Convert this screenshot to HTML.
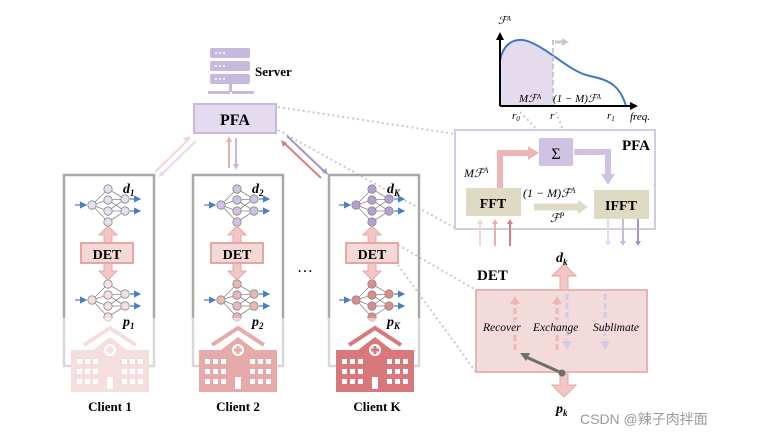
<!DOCTYPE html>
<html><head><meta charset="utf-8"><style>
html,body{margin:0;padding:0;background:#fff;}
svg{display:block;font-family:"Liberation Serif",serif;}
</style></head><body>
<svg width="767" height="440" viewBox="0 0 767 440" xmlns="http://www.w3.org/2000/svg">
<defs>
<marker id="ab" markerWidth="6" markerHeight="6" refX="5" refY="3" orient="auto"><path d="M0,0 L6,3 L0,6 z" fill="#4a7fc6"/></marker>
<g id="net">
 <g stroke="#888" stroke-width="0.8" fill="none">
  <path d="M-16,0 L0,-16 M-16,0 L0,-5 M-16,0 L0,6 M-16,0 L0,17 M0,-16 L17,-6 M0,-5 L17,-6 M0,-5 L17,6 M0,6 L17,-6 M0,6 L17,6 M0,17 L17,6"/>
 </g>
 <g fill="currentColor" stroke="#888" stroke-width="0.8">
  <circle cx="-16" cy="0" r="4.2"/><circle cx="0" cy="-16" r="4.2"/><circle cx="0" cy="-5" r="4.2"/><circle cx="0" cy="6" r="4.2"/><circle cx="0" cy="17" r="4.2"/><circle cx="17" cy="-6" r="4.2"/><circle cx="17" cy="6" r="4.2"/>
 </g>
 <g stroke="#4a7fc6" stroke-width="1.2" marker-end="url(#ab)">
  <line x1="-33" y1="0" x2="-22" y2="0"/><line x1="22" y1="-6" x2="32" y2="-6"/><line x1="22" y1="6" x2="32" y2="6"/>
 </g>
</g>
<g id="hosp">
 <path d="M-26,-8 L0,-25 L26,-8" fill="none" stroke="currentColor" stroke-width="4"/>
 <path d="M-17,-3 L0,-16 L17,-3z" fill="currentColor"/>
 <rect x="-39" y="-3" width="78" height="42" fill="currentColor"/>
 <circle cx="0" cy="-3" r="6" fill="#fff"/><path d="M-1.5,-7h3v2.5h2.5v3h-2.5v2.5h-3v-2.5h-2.5v-3h2.5z" fill="currentColor"/>
 <g fill="#fff">
  <rect x="-33" y="6" width="5" height="5"/><rect x="-25" y="6" width="5" height="5"/><rect x="-17" y="6" width="5" height="5"/><rect x="12" y="6" width="5" height="5"/><rect x="20" y="6" width="5" height="5"/><rect x="28" y="6" width="5" height="5"/>
  <rect x="-33" y="16" width="5" height="5"/><rect x="-25" y="16" width="5" height="5"/><rect x="-17" y="16" width="5" height="5"/><rect x="12" y="16" width="5" height="5"/><rect x="20" y="16" width="5" height="5"/><rect x="28" y="16" width="5" height="5"/>
  <rect x="-33" y="26" width="5" height="5"/><rect x="-25" y="26" width="5" height="5"/><rect x="-17" y="26" width="5" height="5"/><rect x="12" y="26" width="5" height="5"/><rect x="20" y="26" width="5" height="5"/><rect x="28" y="26" width="5" height="5"/>
  <rect x="-3" y="24" width="6" height="12"/>
 </g>
</g>
<g id="dbl">
 <path d="M-4,0 L-4,-8 L-9,-8 L0,-17 L9,-8 L4,-8 L4,0z" fill="#f1c6c6" stroke="#e8a5a5"/>
</g>
</defs>

<!-- server icon -->
<g fill="#c9b8dd">
 <rect x="210" y="48" width="40" height="10" rx="2"/><rect x="210" y="61" width="40" height="10" rx="2"/><rect x="210" y="74" width="40" height="10" rx="2"/>
 <rect x="208" y="91" width="22" height="3"/><rect x="232" y="91" width="22" height="3"/><rect x="229" y="84" width="3" height="8"/>
</g>
<g fill="#fff"><circle cx="216" cy="53" r="1"/><circle cx="220" cy="53" r="1"/><circle cx="224" cy="53" r="1"/><circle cx="216" cy="66" r="1"/><circle cx="220" cy="66" r="1"/><circle cx="224" cy="66" r="1"/><circle cx="216" cy="79" r="1"/><circle cx="220" cy="79" r="1"/><circle cx="224" cy="79" r="1"/></g>
<text x="255" y="76" font-size="13" font-weight="bold">Server</text>

<!-- PFA small -->
<rect x="194" y="104" width="82" height="29" fill="#e4dbee" stroke="#c9b8dd" stroke-width="2"/>
<text x="235" y="125" font-size="16" font-weight="bold" text-anchor="middle">PFA</text>

<!-- dotted lines -->
<g stroke="#c8c8c8" stroke-width="2" stroke-dasharray="2,3" fill="none">
 <line x1="278" y1="107" x2="455" y2="134"/>
 <line x1="278" y1="130" x2="455" y2="228"/>
 <line x1="398" y1="245" x2="476" y2="290"/>
 <line x1="398" y1="265" x2="476" y2="372"/>
 <line x1="520" y1="112" x2="545" y2="138"/>
 <line x1="556" y1="112" x2="566" y2="138"/>
</g>

<!-- client-server arrows -->
<g stroke-width="2" fill="none">
 <line x1="155" y1="172" x2="190" y2="138" stroke="#f3d6d6"/>
 <line x1="196" y1="141" x2="161" y2="175" stroke="#e4dbee"/>
 <line x1="229" y1="168" x2="229" y2="140" stroke="#e8b0b0"/>
 <line x1="236" y1="138" x2="236" y2="166" stroke="#c9b8dd"/>
 <line x1="321" y1="178" x2="283" y2="142" stroke="#d97f80"/>
 <line x1="287" y1="136" x2="325" y2="172" stroke="#a894c8"/>
</g>
<g>
 <path d="M190,136 l-7,2 l4,4z" fill="#f3d6d6"/><path d="M158,177 l7,-2 l-4,-4z" fill="#e4dbee"/>
 <path d="M229,136 l-3,6 h6z" fill="#e8b0b0"/><path d="M236,170 l-3,-6 h6z" fill="#c9b8dd"/>
 <path d="M281,140 l2,7 l4,-4z" fill="#d97f80"/><path d="M328,175 l-2,-7 l-4,4z" fill="#a894c8"/>
</g>

<!-- clients -->
<g fill="none" stroke="#a9a9a9" stroke-width="2.5">
 <rect x="64" y="175" width="90" height="191"/>
 <rect x="193" y="175" width="90" height="191"/>
 <rect x="329" y="175" width="90" height="191"/>
</g>

<use href="#net" x="108" y="205" style="color:#e6e0ee"/>
<use href="#net" x="108" y="300" style="color:#f6e0e0"/>
<use href="#net" x="237" y="205" style="color:#cfc2e2"/>
<use href="#net" x="237" y="300" style="color:#eab6b6"/>
<use href="#net" x="372" y="205" style="color:#b39fd2"/>
<use href="#net" x="372" y="300" style="color:#dd8c8c"/>
<g fill="#fff" opacity="0.55"><rect x="62" y="318" width="94" height="50"/><rect x="191" y="318" width="94" height="50"/><rect x="327" y="318" width="94" height="50"/></g>

<use href="#dbl" x="108" y="243"/><use href="#dbl" x="108" y="263" transform="translate(0,526) scale(1,-1)"/>
<use href="#dbl" x="237" y="243"/><use href="#dbl" x="237" y="263" transform="translate(0,526) scale(1,-1)"/>
<use href="#dbl" x="372" y="243"/><use href="#dbl" x="372" y="263" transform="translate(0,526) scale(1,-1)"/>
<g fill="#f3d8d8" stroke="#e8a5a5" stroke-width="2">
 <rect x="81" y="243" width="52" height="20"/><rect x="211" y="243" width="52" height="20"/><rect x="346" y="243" width="52" height="20"/>
</g>
<g font-size="14" font-weight="bold" text-anchor="middle">
 <text x="107" y="259">DET</text><text x="237" y="259">DET</text><text x="372" y="259">DET</text>
</g>
<g font-size="14" font-weight="bold" font-style="italic">
 <text x="123" y="193">d<tspan font-size="9" dy="3">1</tspan></text>
 <text x="252" y="193">d<tspan font-size="9" dy="3">2</tspan></text>
 <text x="387" y="193">d<tspan font-size="9" dy="3">K</tspan></text>
 <text x="123" y="326">p<tspan font-size="9" dy="3">1</tspan></text>
 <text x="252" y="326">p<tspan font-size="9" dy="3">2</tspan></text>
 <text x="387" y="326">p<tspan font-size="9" dy="3">K</tspan></text>
</g>
<text x="305" y="272" font-size="16" text-anchor="middle">…</text>

<use href="#hosp" x="110" y="353" style="color:#f5dede"/>
<use href="#hosp" x="238" y="353" style="color:#e6aaaa"/>
<use href="#hosp" x="375" y="353" style="color:#d8787a"/>
<g font-size="13" font-weight="bold" text-anchor="middle">
 <text x="110" y="411">Client 1</text><text x="238" y="411">Client 2</text><text x="377" y="411">Client K</text>
</g>

<!-- chart -->
<path d="M500,60 C505,38 520,38 530,42 C540,46 548,50 553,54 L553,106 L500,106z" fill="#e4dcec"/>
<path d="M500,60 C505,38 520,38 530,42 C550,50 570,72 590,76 C610,80 620,86 626,106" fill="none" stroke="#3f78c0" stroke-width="2"/>
<line x1="553" y1="40" x2="553" y2="106" stroke="#c8c8c8" stroke-width="2" stroke-dasharray="5,3"/>
<path d="M555,42 h8" stroke="#c8c8c8" stroke-width="3"/><path d="M562,38 l7,4 l-7,4z" fill="#c8c8c8"/>
<line x1="500" y1="106" x2="500" y2="38" stroke="#000" stroke-width="2"/><path d="M500,32 l-4,8 h8z"/>
<line x1="500" y1="106" x2="632" y2="106" stroke="#000" stroke-width="2"/><path d="M638,106 l-8,-4 v8z"/>
<g font-style="italic" font-size="11">
 <text x="498" y="24">ℱ<tspan font-size="7" dy="-3">A</tspan></text>
 <text x="519" y="102">Mℱ<tspan font-size="7" dy="-3">A</tspan></text>
 <text x="553" y="102">(1 − M)ℱ<tspan font-size="7" dy="-3">A</tspan></text>
 <text x="512" y="119">r<tspan font-size="7" dy="2">0</tspan></text>
 <text x="550" y="119">r</text>
 <text x="607" y="119">r<tspan font-size="7" dy="2">1</tspan></text>
 <text x="630" y="120">freq.</text>
</g>

<!-- PFA big -->
<rect x="455" y="130" width="200" height="99" fill="#fff" stroke="#d4cae4" stroke-width="2"/>
<text x="650" y="150" font-size="15" font-weight="bold" text-anchor="end">PFA</text>
<path d="M500,188 V153 H530" fill="none" stroke="#eeb5b5" stroke-width="6"/><path d="M539,153 l-11,-7 v14z" fill="#eeb5b5"/>
<path d="M574,152 H608 V175" fill="none" stroke="#cfc2e2" stroke-width="6"/><path d="M608,185 l-7,-11 h14z" fill="#cfc2e2"/>
<rect x="539" y="138" width="34" height="28" fill="#cfc2e2"/>
<text x="556" y="159" font-size="16" text-anchor="middle">Σ</text>
<rect x="466" y="188" width="55" height="28" fill="#dedac4"/>
<text x="493" y="208" font-size="14" font-weight="bold" text-anchor="middle">FFT</text>
<rect x="594" y="190" width="55" height="29" fill="#dedac4"/>
<text x="621" y="210" font-size="14" font-weight="bold" text-anchor="middle">IFFT</text>
<path d="M534,207 H578" stroke="#dedac4" stroke-width="7"/><path d="M588,207 l-10,-7 v14z" fill="#dedac4"/>
<g font-style="italic" font-size="12">
 <text x="464" y="177">Mℱ<tspan font-size="8" dy="-4">A</tspan></text>
 <text x="523" y="197">(1 − M)ℱ<tspan font-size="8" dy="-4">A</tspan></text>
 <text x="550" y="222">ℱ<tspan font-size="8" dy="-4">P</tspan></text>
</g>
<g stroke-width="2">
 <line x1="480" y1="246" x2="480" y2="223" stroke="#f3d6d6"/><line x1="495" y1="246" x2="495" y2="223" stroke="#e8b0b0"/><line x1="510" y1="246" x2="510" y2="223" stroke="#d97f80"/>
 <line x1="608" y1="219" x2="608" y2="242" stroke="#e4dbee"/><line x1="623" y1="219" x2="623" y2="242" stroke="#c9b8dd"/><line x1="638" y1="219" x2="638" y2="242" stroke="#a894c8"/>
</g>
<path d="M480,219 l-3,5 h6z" fill="#f3d6d6"/><path d="M495,219 l-3,5 h6z" fill="#e8b0b0"/><path d="M510,219 l-3,5 h6z" fill="#d97f80"/>
<path d="M608,246 l-3,-5 h6z" fill="#e4dbee"/><path d="M623,246 l-3,-5 h6z" fill="#c9b8dd"/><path d="M638,246 l-3,-5 h6z" fill="#a894c8"/>

<!-- DET big -->
<path d="M560,290 V276 H552 L564,264 L576,276 H568 V290z" fill="#f1c6c6" stroke="#e8a5a5"/>
<path d="M560,371 V385 H552 L564,397 L576,385 H568 V371z" fill="#f1c6c6" stroke="#e8a5a5"/>
<rect x="476" y="290" width="171" height="82" fill="#f3dbdb" stroke="#e8b5b5" stroke-width="2"/>
<g stroke-width="3" stroke-dasharray="6,3" fill="none">
 <line x1="515" y1="350" x2="515" y2="304" stroke="#eeb5b5"/>
 <line x1="557" y1="350" x2="557" y2="304" stroke="#eeb5b5"/>
 <line x1="567" y1="294" x2="567" y2="340" stroke="#d4cae4"/>
 <line x1="605" y1="294" x2="605" y2="340" stroke="#d4cae4"/>
</g>
<path d="M515,296 l-5,8 h10z" fill="#eeb5b5"/><path d="M557,296 l-5,8 h10z" fill="#eeb5b5"/>
<path d="M567,350 l-5,-9 h10z" fill="#d4cae4"/><path d="M605,350 l-5,-9 h10z" fill="#d4cae4"/>
<rect x="500" y="320" width="140" height="14" fill="#f3dbdb" opacity="0.7"/>
<g font-style="italic" font-size="11.5">
 <text x="483" y="331">Recover</text><text x="533" y="331">Exchange</text><text x="593" y="331">Sublimate</text>
</g>
<line x1="562" y1="373" x2="526" y2="357" stroke="#6e6e6e" stroke-width="3"/>
<path d="M520,353 l10,0 l-4,8z" fill="#6e6e6e"/><circle cx="562" cy="373" r="3.5" fill="#6e6e6e"/>
<text x="477" y="280" font-size="15" font-weight="bold">DET</text>
<g font-size="14" font-weight="bold" font-style="italic">
 <text x="556" y="262">d<tspan font-size="9" dy="3">k</tspan></text>
 <text x="556" y="413">p<tspan font-size="9" dy="3">k</tspan></text>
</g>
<text x="580" y="424" font-size="14" fill="#9a9a9a" font-family="Liberation Sans, Noto Sans CJK SC, sans-serif">CSDN @辣子肉拌面</text>
</svg>
</body></html>
